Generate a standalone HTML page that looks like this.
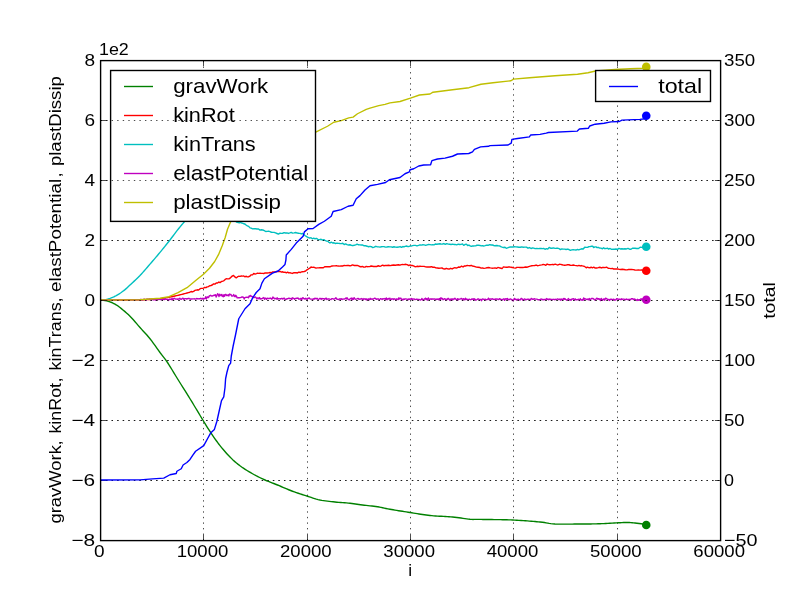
<!DOCTYPE html>
<html><head><meta charset="utf-8"><title>plot</title>
<style>html,body{margin:0;padding:0;background:#fff;overflow:hidden}svg{display:block;will-change:transform}text{font-family:"Liberation Sans",sans-serif;fill:#000}</style></head><body>
<svg width="800" height="600" viewBox="0 0 800 600">
<rect width="800" height="600" fill="#fff"/>
<g>
<line x1="203.50" y1="540.5" x2="203.50" y2="60.5" stroke="#000" stroke-width="0.7" stroke-dasharray="1.39 4.17" fill="none"/>
<line x1="307.50" y1="540.5" x2="307.50" y2="60.5" stroke="#000" stroke-width="0.7" stroke-dasharray="1.39 4.17" fill="none"/>
<line x1="410.50" y1="540.5" x2="410.50" y2="60.5" stroke="#000" stroke-width="0.7" stroke-dasharray="1.39 4.17" fill="none"/>
<line x1="513.50" y1="540.5" x2="513.50" y2="60.5" stroke="#000" stroke-width="0.7" stroke-dasharray="1.39 4.17" fill="none"/>
<line x1="617.50" y1="540.5" x2="617.50" y2="60.5" stroke="#000" stroke-width="0.7" stroke-dasharray="1.39 4.17" fill="none"/>
<line x1="100.5" y1="120.5" x2="720.5" y2="120.5" stroke="#000" stroke-width="0.7" stroke-dasharray="1.39 4.17" fill="none"/>
<line x1="100.5" y1="180.5" x2="720.5" y2="180.5" stroke="#000" stroke-width="0.7" stroke-dasharray="1.39 4.17" fill="none"/>
<line x1="100.5" y1="240.5" x2="720.5" y2="240.5" stroke="#000" stroke-width="0.7" stroke-dasharray="1.39 4.17" fill="none"/>
<line x1="100.5" y1="300.5" x2="720.5" y2="300.5" stroke="#000" stroke-width="0.7" stroke-dasharray="1.39 4.17" fill="none"/>
<line x1="100.5" y1="360.5" x2="720.5" y2="360.5" stroke="#000" stroke-width="0.7" stroke-dasharray="1.39 4.17" fill="none"/>
<line x1="100.5" y1="420.5" x2="720.5" y2="420.5" stroke="#000" stroke-width="0.7" stroke-dasharray="1.39 4.17" fill="none"/>
<line x1="100.5" y1="480.5" x2="720.5" y2="480.5" stroke="#000" stroke-width="0.7" stroke-dasharray="1.39 4.17" fill="none"/>
</g>
<clipPath id="ac"><rect x="100" y="60" width="621" height="481"/></clipPath>
<g clip-path="url(#ac)">
<polyline points="100.00,300.00 101.30,300.08 103.15,300.22 105.00,300.45 106.67,300.79 108.33,301.24 110.00,301.80 111.67,302.49 113.33,303.29 115.00,304.20 116.48,305.03 117.96,305.96 120.00,307.50 121.38,308.61 122.96,309.92 124.69,311.38 126.48,312.95 128.28,314.58 130.00,316.25 131.67,317.98 133.33,319.81 135.00,321.72 136.67,323.66 138.33,325.60 140.00,327.50 141.67,329.35 143.33,331.16 145.00,332.97 146.67,334.81 148.33,336.73 150.00,338.75 151.70,340.94 153.43,343.29 155.16,345.70 156.85,348.10 158.48,350.40 160.00,352.50 161.99,355.12 163.75,357.34 165.51,359.65 167.50,362.50 168.99,364.80 170.56,367.31 172.19,370.00 173.89,372.82 175.66,375.75 177.50,378.75 179.21,381.50 181.09,384.50 183.04,387.62 184.99,390.73 186.86,393.71 188.55,396.42 190.00,398.75 192.28,402.47 193.80,405.00 195.60,408.00 197.08,410.45 198.71,413.17 200.41,416.01 202.12,418.83 203.75,421.50 205.64,424.58 207.46,427.53 209.30,430.44 211.25,433.40 212.90,435.83 214.60,438.30 216.35,440.76 218.15,443.21 220.00,445.60 221.59,447.58 223.24,449.56 224.92,451.51 226.62,453.42 228.32,455.26 230.00,457.00 231.64,458.63 233.24,460.16 234.84,461.62 236.48,463.03 238.19,464.41 240.00,465.80 241.65,467.00 243.39,468.18 245.18,469.36 247.01,470.51 248.86,471.63 250.69,472.71 252.50,473.75 254.29,474.74 256.07,475.70 257.86,476.61 259.64,477.50 261.43,478.35 263.21,479.19 265.00,480.00 266.76,480.77 268.50,481.48 270.23,482.16 271.97,482.84 273.75,483.52 275.58,484.23 277.50,485.00 279.26,485.73 281.07,486.50 282.94,487.31 284.84,488.12 286.77,488.94 288.69,489.75 290.61,490.52 292.50,491.25 294.39,491.94 296.31,492.62 298.23,493.27 300.16,493.91 302.06,494.52 303.93,495.12 305.74,495.69 307.50,496.25 309.40,496.87 311.18,497.46 312.90,498.04 314.60,498.58 316.32,499.09 318.10,499.57 320.00,500.00 321.76,500.34 323.57,500.64 325.44,500.91 327.34,501.16 329.27,501.38 331.19,501.59 333.11,501.80 335.00,502.00 336.89,502.19 338.81,502.35 340.73,502.50 342.66,502.64 344.56,502.78 346.43,502.92 348.24,503.07 350.00,503.25 351.90,503.47 353.68,503.71 355.40,503.97 357.10,504.22 358.82,504.49 360.60,504.75 362.50,505.00 364.27,505.21 366.13,505.42 368.05,505.62 370.00,505.83 371.95,506.04 373.87,506.26 375.73,506.50 377.50,506.75 379.35,507.06 381.03,507.39 382.64,507.73 384.25,508.09 385.95,508.46 387.84,508.85 390.00,509.25 391.54,509.52 393.18,509.80 394.91,510.09 396.72,510.39 398.58,510.69 400.49,511.00 402.41,511.31 404.34,511.61 406.26,511.91 408.15,512.21 410.00,512.50 411.81,512.79 413.60,513.08 415.39,513.38 417.17,513.67 418.95,513.97 420.74,514.25 422.54,514.53 424.37,514.80 426.21,515.05 428.09,515.28 430.00,515.50 431.80,515.68 433.66,515.83 435.57,515.96 437.50,516.08 439.45,516.19 441.41,516.30 443.35,516.40 445.28,516.50 447.17,516.61 449.01,516.72 450.79,516.85 452.50,517.00 454.71,517.23 456.87,517.49 458.98,517.77 461.03,518.06 463.01,518.35 464.91,518.63 466.71,518.88 468.41,519.09 470.00,519.25 471.84,519.39 473.06,519.44 474.06,519.43 475.28,519.39 477.12,519.37 480.00,519.40 481.33,519.42 482.82,519.44 484.45,519.46 486.20,519.48 488.06,519.50 490.01,519.52 492.03,519.55 494.10,519.57 496.22,519.60 498.35,519.63 500.49,519.67 502.62,519.71 504.72,519.75 506.78,519.80 508.77,519.86 510.68,519.93 512.50,520.00 514.65,520.10 516.80,520.21 518.95,520.34 521.09,520.47 523.20,520.61 525.29,520.76 527.34,520.91 529.35,521.07 531.31,521.23 533.20,521.39 535.02,521.55 536.77,521.70 538.43,521.85 540.00,522.00 542.40,522.26 544.39,522.55 546.10,522.84 547.66,523.12 549.19,523.40 550.84,523.64 552.73,523.85 555.00,524.00 556.61,524.07 558.35,524.11 560.19,524.14 562.12,524.16 564.11,524.16 566.16,524.15 568.22,524.13 570.29,524.11 572.35,524.08 574.37,524.06 576.33,524.03 578.21,524.01 580.00,524.00 581.99,523.99 583.87,523.98 585.68,523.98 587.43,523.97 589.15,523.96 590.85,523.95 592.57,523.93 594.32,523.90 596.13,523.86 598.01,523.81 600.00,523.75 601.80,523.68 603.72,523.60 605.74,523.49 607.82,523.38 609.93,523.26 612.06,523.14 614.18,523.02 616.25,522.90 618.25,522.79 620.15,522.69 621.93,522.61 623.55,522.54 625.00,522.50 627.52,522.47 629.40,522.50 630.86,522.58 632.13,522.69 633.43,522.84 635.00,523.00 636.93,523.21 639.07,523.48 641.25,523.78 643.29,524.07 645.01,524.33 646.25,524.50" fill="none" stroke="#008000" stroke-width="1.39" stroke-linejoin="round" stroke-linecap="butt"/>
<circle cx="646.25" cy="525" r="4.3" fill="#008000"/>
<polyline points="100.00,300.00 100.81,300.00 101.74,299.99 102.80,299.99 103.96,299.99 105.23,299.99 106.58,299.99 108.02,299.98 109.54,299.98 111.11,299.98 112.74,299.98 114.42,299.98 116.13,299.97 117.87,299.97 119.63,299.97 121.40,299.96 123.17,299.96 124.93,299.95 126.67,299.94 128.38,299.93 130.06,299.92 131.69,299.91 133.26,299.90 134.78,299.88 136.21,299.86 137.57,299.84 138.84,299.82 140.00,299.80 142.06,299.75 143.95,299.70 145.70,299.65 147.32,299.60 148.82,299.54 150.23,299.48 151.56,299.41 152.83,299.33 154.05,299.25 155.23,299.16 156.41,299.06 157.58,298.95 158.77,298.83 160.00,298.70 161.56,298.52 163.07,298.31 164.53,298.09 165.95,297.85 167.33,297.60 168.67,297.34 169.98,297.07 171.26,296.80 172.52,296.53 173.77,296.26 175.00,296.00 176.48,295.68 177.93,295.35 179.33,295.01 180.70,294.67 182.04,294.32 183.33,293.98 184.59,293.65 185.81,293.32 187.00,293.00 188.46,292.61 189.83,292.22 191.15,291.50 192.41,291.93 193.63,291.39 194.82,290.45 196.00,290.09 197.34,289.81 198.61,290.01 199.84,288.94 201.06,288.35 202.27,288.39 203.50,288.11 204.73,287.40 205.94,287.70 207.16,286.89 208.39,286.55 209.66,285.72 211.00,285.49 212.23,285.00 213.54,283.86 214.90,284.11 216.26,282.95 217.59,282.95 218.85,282.02 220.00,282.61 221.47,281.50 222.82,281.09 224.06,280.58 225.20,279.43 226.25,278.72 227.73,278.82 228.94,278.84 230.00,278.13 231.25,276.90 232.50,275.88 233.56,275.50 234.77,276.85 236.25,277.84 237.38,276.98 238.69,276.25 240.06,276.41 241.37,276.02 242.50,276.13 243.80,276.00 244.81,276.80 246.25,276.23 247.30,276.92 248.52,276.75 249.84,276.18 251.20,274.82 252.53,274.88 253.75,273.50 255.10,274.12 256.40,273.69 257.65,273.14 258.85,273.34 260.00,273.14 261.34,273.40 262.58,273.32 263.78,273.53 265.00,272.92 266.16,273.00 267.27,272.94 268.49,272.87 270.00,272.50 271.27,272.76 272.73,271.84 274.30,271.82 275.88,271.78 277.39,271.50 278.75,271.65 280.18,271.37 281.49,272.10 282.71,271.78 283.87,272.41 285.00,272.24 286.34,272.88 287.58,272.19 288.78,272.93 290.00,272.77 291.19,273.08 292.34,273.46 293.57,272.80 295.00,272.70 296.15,272.71 297.45,272.95 298.83,272.14 300.19,272.54 301.44,271.92 302.50,271.76 304.07,271.54 305.23,271.26 306.25,270.41 307.42,269.53 308.75,268.74 309.79,268.22 311.02,267.04 312.35,267.34 313.75,267.28 314.86,267.61 315.98,268.08 317.17,267.90 318.49,267.91 320.00,267.61 321.12,267.80 322.22,267.80 323.37,267.69 324.64,266.75 326.12,266.79 327.88,266.70 330.00,266.81 331.08,266.25 332.28,265.94 333.59,265.82 334.98,265.85 336.44,265.69 337.96,266.06 339.52,266.07 341.09,265.91 342.68,266.00 344.25,265.46 345.79,265.67 347.29,265.41 348.72,265.52 350.08,265.86 351.35,265.48 352.50,264.94 354.31,265.49 355.90,265.47 357.31,265.40 358.60,265.80 359.82,266.53 361.02,266.93 362.25,266.44 363.56,267.00 365.00,267.10 366.23,266.40 367.44,266.69 368.64,266.63 369.85,266.60 371.09,265.97 372.36,266.23 373.70,266.53 375.12,266.46 376.63,266.51 378.25,265.75 380.00,266.31 381.23,265.89 382.57,265.21 384.01,265.77 385.51,265.36 387.08,265.54 388.69,265.27 390.33,265.58 391.98,265.21 393.64,264.97 395.28,265.27 396.88,265.00 398.44,264.74 399.94,265.20 401.36,264.65 402.68,264.56 403.90,264.58 405.00,264.31 407.17,264.67 408.80,265.58 410.07,264.98 411.15,265.53 412.22,265.47 413.44,265.87 415.00,266.71 416.17,266.61 417.39,266.24 418.66,266.48 419.98,266.29 421.34,266.35 422.73,266.36 424.15,266.42 425.59,266.84 427.05,266.99 428.52,267.04 430.00,266.95 431.39,266.71 432.83,267.25 434.32,267.17 435.83,267.90 437.37,268.00 438.91,268.26 440.44,268.11 441.94,267.85 443.42,268.82 444.84,269.02 446.21,268.28 447.50,268.79 449.12,269.07 450.66,268.27 452.13,268.95 453.54,268.09 454.89,267.63 456.20,268.11 457.49,267.53 458.75,267.01 460.00,267.26 461.56,266.15 463.04,266.99 464.46,265.90 465.85,265.95 467.22,265.52 468.59,265.64 470.00,265.77 471.34,265.40 472.57,266.18 473.76,266.24 475.01,266.56 476.41,267.12 478.05,267.25 480.00,267.56 481.16,268.17 482.46,267.90 483.89,268.35 485.42,268.17 487.02,267.77 488.66,267.53 490.31,267.90 491.95,268.19 493.55,268.11 495.09,267.84 496.53,268.38 497.84,267.53 499.01,267.65 500.00,268.04 502.07,268.46 502.81,267.61 503.40,266.87 505.00,267.18 505.98,267.20 507.08,267.31 508.30,266.97 509.61,266.94 511.00,267.30 512.45,267.48 513.94,267.92 515.46,268.13 516.99,267.32 518.50,267.39 520.00,267.48 521.38,267.34 522.80,267.45 524.26,267.30 525.74,267.06 527.24,267.20 528.75,266.55 530.26,266.07 531.76,265.72 533.24,265.68 534.70,265.49 536.12,265.07 537.50,265.70 538.96,265.42 540.38,265.11 541.77,264.85 543.14,264.53 544.49,264.62 545.82,265.35 547.15,264.05 548.48,264.68 549.81,264.80 551.15,264.57 552.50,264.40 553.86,264.72 555.23,264.16 556.59,264.68 557.95,264.98 559.32,264.29 560.68,264.41 562.05,264.76 563.41,265.08 564.77,265.26 566.14,265.13 567.50,264.80 568.89,264.74 570.33,265.22 571.79,265.34 573.27,264.98 574.74,265.41 576.19,265.58 577.60,265.89 578.95,265.38 580.23,265.95 581.42,265.54 582.50,265.87 584.10,266.21 585.28,266.97 586.25,267.81 587.22,267.17 588.40,267.48 590.00,267.80 591.11,267.14 592.37,267.80 593.75,267.20 595.22,268.05 596.73,267.96 598.27,267.65 599.78,267.23 601.25,267.95 602.63,267.52 603.89,267.49 605.00,267.67 606.57,267.13 607.69,267.97 608.59,268.38 609.54,268.43 610.76,268.60 612.50,268.46 613.61,269.02 614.85,268.96 616.20,268.97 617.64,268.86 619.15,269.34 620.70,269.51 622.29,269.31 623.89,269.52 625.48,269.70 627.04,269.84 628.55,269.50 630.00,269.44 631.59,269.46 633.25,269.68 634.96,269.95 636.68,270.17 638.39,269.87 640.03,270.14 641.59,269.90 643.02,270.67 644.30,270.26 645.39,270.55 646.25,270.28" fill="none" stroke="#ff0000" stroke-width="1.39" stroke-linejoin="round" stroke-linecap="butt"/>
<circle cx="646.25" cy="270.75" r="4.3" fill="#ff0000"/>
<polyline points="100.00,300.00 100.90,299.95 102.19,299.88 103.63,299.77 105.00,299.60 106.25,299.36 107.50,299.05 108.75,298.70 110.00,298.30 111.25,297.86 112.50,297.38 113.75,296.84 115.00,296.25 116.25,295.59 117.50,294.88 118.75,294.11 120.00,293.30 121.25,292.45 122.50,291.55 123.75,290.61 125.00,289.60 126.13,288.63 127.19,287.66 128.40,286.52 130.00,285.00 131.17,283.92 132.49,282.70 133.94,281.37 135.45,279.96 137.00,278.50 138.53,277.00 140.00,275.50 141.43,273.97 142.86,272.39 144.29,270.76 145.71,269.11 147.14,267.43 148.57,265.76 150.00,264.10 151.44,262.44 152.89,260.76 154.34,259.08 155.78,257.40 157.22,255.72 158.62,254.05 160.00,252.40 161.28,250.85 162.45,249.41 163.58,248.01 164.73,246.56 165.97,245.00 167.37,243.24 169.00,241.20 170.18,239.70 171.45,238.04 172.81,236.24 174.23,234.34 175.71,232.39 177.21,230.42 178.74,228.47 180.27,226.57 181.78,224.77 183.26,223.10 184.70,221.60 186.12,220.23 187.55,218.93 188.99,217.70 190.43,216.53 191.87,215.43 193.29,214.41 194.70,213.45 196.08,212.56 197.42,211.74 198.73,210.98 200.00,210.30 201.49,209.57 202.93,208.96 204.32,208.46 205.67,208.07 206.98,207.77 208.27,207.55 209.53,207.40 210.77,207.32 212.00,207.30 213.49,207.34 214.87,207.48 216.19,207.74 217.50,208.13 218.87,208.67 220.35,209.39 222.00,210.30 223.30,211.13 224.72,212.16 226.24,213.34 227.81,214.62 229.41,215.94 230.99,217.27 232.52,218.54 233.98,219.70 235.31,220.70 236.50,222.13 238.17,222.53 239.57,222.91 240.78,222.47 241.87,223.16 242.92,223.31 244.00,223.77 245.23,224.25 246.32,225.23 247.38,225.89 248.57,226.37 250.00,227.81 251.22,228.21 252.57,228.87 254.01,228.62 255.50,228.77 257.03,229.01 258.54,228.96 260.00,230.14 261.43,229.72 262.86,229.99 264.29,230.62 265.71,231.50 267.14,231.34 268.57,231.17 270.00,231.55 271.41,232.30 272.78,232.33 274.15,232.42 275.54,232.90 276.96,233.49 278.44,234.12 280.00,233.11 281.29,233.35 282.66,233.25 284.07,232.59 285.52,233.00 286.98,232.83 288.43,233.45 289.84,232.91 291.21,232.33 292.50,233.13 294.10,232.85 295.69,232.48 297.22,233.05 298.70,233.25 300.08,233.38 301.36,233.94 302.50,233.41 304.07,234.66 305.23,235.75 306.28,236.37 307.50,237.09 308.63,237.56 309.79,238.15 311.01,237.68 312.32,238.77 313.75,238.15 315.08,238.77 316.53,238.41 318.05,239.50 319.58,239.67 321.09,239.26 322.50,240.17 323.79,239.68 325.00,240.44 326.17,240.96 327.36,241.07 328.62,242.07 330.00,242.98 331.29,242.17 332.64,243.00 334.05,242.75 335.50,243.52 336.98,243.17 338.48,243.36 340.00,243.53 341.35,243.59 342.75,243.27 344.18,244.52 345.62,243.83 347.07,244.67 348.50,245.05 349.90,244.75 351.25,245.25 352.76,245.70 354.23,245.29 355.69,244.94 357.12,244.17 358.52,244.81 359.90,244.93 361.25,245.02 362.77,245.04 364.21,245.78 365.62,245.75 367.04,246.22 368.48,246.76 370.00,246.40 371.36,246.67 372.77,247.56 374.20,247.10 375.65,246.30 377.11,246.69 378.56,246.89 380.00,247.13 381.38,246.78 382.71,246.60 384.02,246.58 385.36,247.12 386.78,247.06 388.31,246.81 390.00,246.93 391.21,246.85 392.56,247.24 394.00,246.73 395.51,247.11 397.04,247.21 398.58,247.05 400.07,246.56 401.50,247.28 402.81,246.54 403.99,246.89 405.00,246.44 406.84,246.00 407.81,246.59 408.63,246.48 410.00,246.17 411.17,246.15 412.49,245.65 413.94,245.41 415.45,245.41 417.00,245.94 418.53,245.40 420.00,244.82 421.43,245.14 422.86,244.78 424.29,244.82 425.71,245.32 427.14,244.87 428.57,244.47 430.00,244.68 431.38,244.91 432.71,244.73 434.02,244.90 435.36,243.99 436.78,244.30 438.31,244.03 440.00,243.75 441.19,244.09 442.49,243.99 443.87,243.57 445.30,244.32 446.76,243.60 448.24,244.14 449.70,244.22 451.13,244.46 452.51,244.14 453.81,244.44 455.00,244.45 456.71,244.87 458.29,244.22 459.77,244.49 461.15,244.33 462.47,243.94 463.75,245.35 465.00,244.48 466.39,244.19 467.69,245.52 468.91,245.02 470.09,245.88 471.28,246.34 472.50,245.97 473.66,246.06 474.72,245.93 475.78,245.91 476.94,245.20 478.32,245.17 480.00,245.45 481.10,245.83 482.34,245.65 483.69,246.00 485.11,245.61 486.59,245.16 488.10,245.28 489.60,244.61 491.07,245.00 492.48,245.01 493.80,245.52 495.00,245.73 496.67,245.51 498.15,245.80 499.50,245.82 500.80,246.69 502.11,247.16 503.48,247.50 505.00,247.23 506.25,248.22 507.51,247.88 508.80,247.32 510.11,247.03 511.46,246.94 512.87,246.95 514.34,246.77 515.88,246.87 517.50,246.97 518.81,247.23 520.21,247.23 521.70,246.90 523.24,247.20 524.82,247.08 526.41,247.16 527.99,248.20 529.54,247.53 531.04,248.54 532.46,247.86 533.79,248.19 535.00,248.58 536.82,248.34 538.40,248.59 539.81,248.46 541.11,248.46 542.36,248.62 543.64,248.47 545.00,249.27 546.41,248.59 547.78,249.13 549.15,247.43 550.54,248.22 551.96,248.27 553.44,247.89 555.00,248.38 556.28,248.30 557.61,248.13 558.98,248.56 560.38,249.61 561.81,248.94 563.24,249.17 564.67,249.10 566.10,249.46 567.50,249.05 568.90,249.47 570.33,250.42 571.76,249.92 573.19,249.74 574.62,249.84 576.02,250.03 577.39,249.48 578.72,249.87 580.00,249.37 581.60,248.80 583.19,249.01 584.72,247.19 586.20,247.42 587.58,247.34 588.86,246.60 590.00,246.65 591.54,246.28 592.66,246.23 593.69,247.49 595.00,246.92 596.02,246.85 597.04,247.58 598.12,247.32 599.35,248.01 600.79,248.10 602.50,248.77 603.57,247.81 604.74,248.68 605.98,248.55 607.30,248.20 608.67,249.07 610.09,248.48 611.55,249.42 613.03,249.10 614.52,249.20 616.01,249.02 617.50,249.32 618.89,248.34 620.34,248.99 621.85,248.70 623.38,248.97 624.93,248.78 626.48,248.94 628.02,248.35 629.54,249.20 631.01,249.28 632.42,248.30 633.75,248.28 635.00,248.30 636.78,248.50 638.52,248.56 640.17,247.30 641.72,247.33 643.13,247.01 644.38,246.84 645.42,246.52 646.25,247.13" fill="none" stroke="#00bfbf" stroke-width="1.39" stroke-linejoin="round" stroke-linecap="butt"/>
<circle cx="646.25" cy="246.75" r="4.3" fill="#00bfbf"/>
<polyline points="100.00,300.00 100.70,300.00 101.40,299.99 102.10,299.99 102.80,299.99 103.50,299.98 104.20,299.98 104.90,299.98 105.60,299.97 106.30,299.97 107.00,299.96 107.70,299.96 108.40,299.96 109.10,299.95 109.80,299.95 110.50,299.95 111.20,299.94 111.90,299.94 112.60,299.94 113.30,299.93 114.00,299.93 114.70,299.93 115.40,299.92 116.10,299.92 116.80,299.92 117.50,299.91 118.20,299.91 118.90,299.91 119.60,299.90 120.30,299.90 121.00,299.89 121.70,299.89 122.40,299.89 123.10,299.88 123.80,299.88 124.50,299.88 125.20,299.87 125.90,299.87 126.60,299.87 127.30,299.86 128.00,299.86 128.70,299.86 129.40,299.85 130.10,299.85 130.80,299.85 131.50,299.84 132.20,299.84 132.90,299.84 133.60,299.83 134.30,299.83 135.00,299.82 135.70,299.82 136.40,299.82 137.10,299.81 137.80,299.81 138.50,299.81 139.20,299.80 139.90,299.80 140.60,299.49 141.30,299.34 142.00,300.17 142.70,299.68 143.40,299.49 144.10,299.21 144.80,299.31 145.50,299.71 146.20,300.09 146.90,298.99 147.60,299.16 148.30,299.41 149.00,299.24 149.70,298.87 150.40,299.45 151.10,299.69 151.80,298.87 152.50,299.48 153.20,299.73 153.90,299.73 154.60,299.23 155.30,300.17 156.00,299.55 156.70,299.06 157.40,299.68 158.10,298.93 158.80,299.62 159.50,298.86 160.20,299.57 160.90,299.07 161.60,299.66 162.30,299.52 163.00,299.40 163.70,299.26 164.40,299.61 165.10,298.58 165.80,299.35 166.50,299.34 167.20,299.38 167.90,299.46 168.60,300.46 169.30,299.19 170.00,299.42 170.70,299.18 171.40,299.67 172.10,298.40 172.80,299.69 173.50,298.85 174.20,298.28 174.90,298.69 175.60,298.99 176.30,299.11 177.00,299.01 177.70,299.31 178.40,299.00 179.10,298.98 179.80,298.24 180.50,299.15 181.20,299.32 181.90,298.81 182.60,298.29 183.30,298.47 184.00,299.51 184.70,298.70 185.40,298.67 186.10,298.60 186.80,299.12 187.50,298.66 188.20,298.55 188.90,298.32 189.60,298.80 190.30,299.18 191.00,298.76 191.70,299.11 192.40,298.86 193.10,298.83 193.80,298.83 194.50,298.77 195.20,299.11 195.90,298.91 196.60,298.53 197.30,298.76 198.00,298.68 198.70,298.87 199.40,298.75 200.10,298.82 200.80,298.15 201.50,298.79 202.20,299.10 202.90,298.16 203.60,299.18 204.30,298.71 205.00,298.42 205.70,296.78 206.40,298.95 207.10,296.91 207.80,297.01 208.50,297.62 209.20,296.00 209.90,295.74 210.60,295.31 211.30,295.91 212.00,296.21 212.70,295.77 213.40,295.65 214.10,295.01 214.80,295.42 215.50,294.71 216.20,297.00 216.90,295.47 217.60,293.64 218.30,294.39 219.00,296.66 219.70,294.14 220.40,294.93 221.10,295.64 221.80,294.37 222.50,296.21 223.20,296.73 223.90,294.60 224.60,296.26 225.30,294.54 226.00,294.45 226.70,295.51 227.40,295.50 228.10,294.79 228.80,296.02 229.50,294.05 230.20,294.57 230.90,294.38 231.60,295.94 232.30,295.98 233.00,295.87 233.70,294.55 234.40,296.11 235.10,296.74 235.80,295.33 236.50,296.35 237.20,297.85 237.90,297.89 238.60,297.58 239.30,297.78 240.00,297.63 240.70,297.50 241.40,297.32 242.10,296.79 242.80,297.23 243.50,297.12 244.20,299.02 244.90,297.58 245.60,297.39 246.30,297.24 247.00,297.32 247.70,297.21 248.40,297.78 249.10,295.88 249.80,296.47 250.50,295.41 251.20,296.15 251.90,296.51 252.60,296.59 253.30,297.52 254.00,297.57 254.70,297.17 255.40,297.06 256.10,297.57 256.80,299.08 257.50,298.04 258.20,297.89 258.90,298.84 259.60,297.60 260.30,299.00 261.00,298.74 261.70,298.82 262.40,298.44 263.10,297.92 263.80,297.59 264.50,299.26 265.20,298.30 265.90,298.28 266.60,299.33 267.30,298.23 268.00,298.43 268.70,298.43 269.40,298.48 270.10,298.04 270.80,298.28 271.50,299.20 272.20,298.95 272.90,297.08 273.60,297.59 274.30,298.74 275.00,298.52 275.70,298.39 276.40,299.10 277.10,297.69 277.80,299.19 278.50,298.66 279.20,298.87 279.90,298.72 280.60,299.02 281.30,298.48 282.00,298.33 282.70,299.00 283.40,298.70 284.10,297.99 284.80,299.29 285.50,299.22 286.20,299.34 286.90,298.66 287.60,298.80 288.30,298.44 289.00,298.15 289.70,298.67 290.40,298.73 291.10,298.31 291.80,299.56 292.50,297.84 293.20,298.24 293.90,298.32 294.60,299.30 295.30,298.53 296.00,298.50 296.70,298.22 297.40,298.28 298.10,298.02 298.80,299.18 299.50,298.98 300.20,299.17 300.90,298.35 301.60,299.94 302.30,298.19 303.00,297.66 303.70,298.54 304.40,298.76 305.10,299.07 305.80,298.19 306.50,299.00 307.20,299.56 307.90,298.28 308.60,298.34 309.30,297.86 310.00,298.84 310.70,299.15 311.40,299.11 312.10,299.14 312.80,299.44 313.50,298.79 314.20,299.21 314.90,298.26 315.60,298.34 316.30,298.86 317.00,298.33 317.70,299.03 318.40,299.44 319.10,298.95 319.80,298.39 320.50,298.38 321.20,299.44 321.90,298.36 322.60,298.81 323.30,298.64 324.00,298.80 324.70,299.32 325.40,298.51 326.10,298.08 326.80,299.51 327.50,298.90 328.20,299.15 328.90,298.78 329.60,299.18 330.30,299.43 331.00,299.48 331.70,298.67 332.40,298.63 333.10,299.01 333.80,298.91 334.50,299.10 335.20,298.46 335.90,297.66 336.60,299.05 337.30,299.22 338.00,299.15 338.70,299.66 339.40,299.26 340.10,298.64 340.80,299.33 341.50,298.80 342.20,299.47 342.90,298.97 343.60,299.08 344.30,298.97 345.00,298.88 345.70,298.11 346.40,298.89 347.10,297.73 347.80,299.12 348.50,299.37 349.20,299.90 349.90,299.06 350.60,298.52 351.30,298.09 352.00,299.86 352.70,298.17 353.40,299.34 354.10,297.74 354.80,298.87 355.50,299.24 356.20,299.06 356.90,298.88 357.60,298.49 358.30,298.46 359.00,299.42 359.70,299.13 360.40,298.84 361.10,299.02 361.80,298.46 362.50,299.44 363.20,299.56 363.90,298.54 364.60,298.99 365.30,299.46 366.00,298.62 366.70,299.96 367.40,299.70 368.10,298.81 368.80,299.44 369.50,299.79 370.20,298.33 370.90,299.27 371.60,298.89 372.30,298.86 373.00,299.32 373.70,298.73 374.40,298.27 375.10,298.27 375.80,298.97 376.50,299.30 377.20,298.97 377.90,298.91 378.60,298.98 379.30,299.64 380.00,299.26 380.70,298.63 381.40,298.86 382.10,299.61 382.80,298.72 383.50,298.81 384.20,299.00 384.90,298.48 385.60,299.47 386.30,297.93 387.00,299.75 387.70,298.81 388.40,298.40 389.10,299.17 389.80,298.18 390.50,299.31 391.20,299.43 391.90,298.76 392.60,298.85 393.30,299.52 394.00,298.72 394.70,299.07 395.40,299.23 396.10,299.84 396.80,298.81 397.50,299.08 398.20,299.63 398.90,297.79 399.60,298.94 400.30,298.12 401.00,298.16 401.70,300.06 402.40,299.19 403.10,299.83 403.80,298.97 404.50,299.36 405.20,298.88 405.90,298.83 406.60,299.07 407.30,299.17 408.00,299.87 408.70,299.01 409.40,299.30 410.10,298.99 410.80,299.19 411.50,298.47 412.20,299.67 412.90,298.87 413.60,299.15 414.30,299.03 415.00,299.63 415.70,299.40 416.40,299.15 417.10,299.23 417.80,299.32 418.50,299.53 419.20,299.41 419.90,299.80 420.60,299.97 421.30,299.47 422.00,298.50 422.70,300.04 423.40,300.24 424.10,298.99 424.80,298.97 425.50,298.15 426.20,299.57 426.90,298.68 427.60,300.10 428.30,297.95 429.00,299.23 429.70,299.53 430.40,299.00 431.10,298.80 431.80,299.33 432.50,298.94 433.20,299.04 433.90,299.19 434.60,298.94 435.30,299.10 436.00,299.61 436.70,299.03 437.40,299.31 438.10,298.85 438.80,299.69 439.50,298.59 440.20,299.72 440.90,297.73 441.60,298.79 442.30,298.45 443.00,299.75 443.70,299.39 444.40,298.60 445.10,298.97 445.80,299.93 446.50,299.23 447.20,299.54 447.90,298.51 448.60,298.51 449.30,299.55 450.00,300.42 450.70,299.00 451.40,299.57 452.10,298.80 452.80,299.90 453.50,299.05 454.20,299.06 454.90,298.34 455.60,299.08 456.30,299.38 457.00,299.98 457.70,298.70 458.40,299.78 459.10,299.13 459.80,299.15 460.50,298.83 461.20,298.45 461.90,298.70 462.60,300.12 463.30,298.71 464.00,299.09 464.70,299.87 465.40,298.26 466.10,299.54 466.80,299.06 467.50,299.41 468.20,299.76 468.90,299.25 469.60,299.23 470.30,299.69 471.00,299.65 471.70,298.98 472.40,299.25 473.10,298.67 473.80,299.99 474.50,298.74 475.20,299.44 475.90,300.23 476.60,299.76 477.30,299.21 478.00,299.00 478.70,299.05 479.40,299.83 480.10,299.54 480.80,299.38 481.50,300.68 482.20,298.96 482.90,299.14 483.60,299.19 484.30,299.49 485.00,299.54 485.70,299.25 486.40,299.75 487.10,299.65 487.80,299.23 488.50,298.16 489.20,299.78 489.90,298.90 490.60,299.05 491.30,299.30 492.00,298.75 492.70,298.97 493.40,299.40 494.10,299.19 494.80,299.52 495.50,298.93 496.20,299.24 496.90,298.83 497.60,299.21 498.30,299.50 499.00,299.23 499.70,298.64 500.40,299.26 501.10,299.43 501.80,299.92 502.50,299.34 503.20,299.15 503.90,298.77 504.60,300.35 505.30,298.88 506.00,298.79 506.70,299.28 507.40,298.45 508.10,299.89 508.80,299.45 509.50,299.60 510.20,298.87 510.90,299.11 511.60,299.79 512.30,299.81 513.00,300.78 513.70,299.91 514.40,298.42 515.10,299.41 515.80,299.18 516.50,299.91 517.20,299.32 517.90,299.61 518.60,299.21 519.30,299.67 520.00,300.10 520.70,299.06 521.40,298.35 522.10,298.85 522.80,300.15 523.50,299.48 524.20,299.22 524.90,298.89 525.60,299.90 526.30,299.52 527.00,299.32 527.70,299.10 528.40,299.30 529.10,299.21 529.80,299.66 530.50,300.01 531.20,298.39 531.90,298.65 532.60,299.33 533.30,299.41 534.00,298.60 534.70,299.06 535.40,299.17 536.10,299.15 536.80,299.14 537.50,299.33 538.20,299.82 538.90,299.74 539.60,299.67 540.30,299.51 541.00,299.01 541.70,299.13 542.40,299.72 543.10,299.43 543.80,299.77 544.50,299.51 545.20,299.40 545.90,299.59 546.60,298.60 547.30,299.29 548.00,299.08 548.70,299.80 549.40,299.04 550.10,299.49 550.80,299.16 551.50,299.61 552.20,299.73 552.90,299.27 553.60,299.42 554.30,299.46 555.00,299.76 555.70,299.20 556.40,299.39 557.10,299.15 557.80,298.89 558.50,299.45 559.20,299.58 559.90,298.96 560.60,300.15 561.30,298.99 562.00,299.74 562.70,299.55 563.40,298.51 564.10,299.35 564.80,298.57 565.50,299.31 566.20,299.70 566.90,300.29 567.60,299.75 568.30,298.60 569.00,299.19 569.70,300.11 570.40,299.45 571.10,300.24 571.80,299.00 572.50,299.08 573.20,298.68 573.90,299.17 574.60,299.99 575.30,298.89 576.00,299.78 576.70,299.59 577.40,299.75 578.10,299.23 578.80,299.37 579.50,300.43 580.20,298.73 580.90,299.74 581.60,300.12 582.30,299.59 583.00,300.19 583.70,297.87 584.40,299.21 585.10,298.77 585.80,299.15 586.50,299.30 587.20,299.60 587.90,298.93 588.60,299.79 589.30,298.57 590.00,299.83 590.70,299.23 591.40,298.46 592.10,298.46 592.80,298.45 593.50,298.85 594.20,299.40 594.90,300.01 595.60,299.74 596.30,298.68 597.00,298.19 597.70,299.19 598.40,298.63 599.10,299.25 599.80,298.99 600.50,300.62 601.20,298.47 601.90,299.49 602.60,300.26 603.30,299.13 604.00,298.94 604.70,300.17 605.40,298.27 606.10,298.47 606.80,298.72 607.50,299.53 608.20,299.72 608.90,299.27 609.60,300.43 610.30,299.23 611.00,299.33 611.70,299.18 612.40,299.95 613.10,299.34 613.80,299.14 614.50,300.19 615.20,299.99 615.90,299.85 616.60,298.71 617.30,298.81 618.00,299.23 618.70,299.22 619.40,299.14 620.10,299.24 620.80,299.68 621.50,298.85 622.20,299.48 622.90,299.16 623.60,299.12 624.30,299.22 625.00,299.73 625.70,299.51 626.40,298.97 627.10,299.53 627.80,299.44 628.50,299.58 629.20,299.24 629.90,299.88 630.60,299.57 631.30,298.81 632.00,298.74 632.70,298.68 633.40,299.59 634.10,299.04 634.80,299.21 635.50,299.35 636.20,300.01 636.90,300.49 637.60,299.34 638.30,300.39 639.00,299.67 639.70,300.00 640.40,299.26 641.10,298.77 641.80,299.64 642.50,300.05 643.20,298.61 643.90,299.37 644.60,299.51 645.30,299.70 646.00,298.85" fill="none" stroke="#bf00bf" stroke-width="1.39" stroke-linejoin="round" stroke-linecap="butt"/>
<circle cx="646.25" cy="299.75" r="4.3" fill="#bf00bf"/>
<polyline points="100.00,300.00 140.00,299.80 160.00,298.20 169.00,296.70 178.00,292.70 187.00,287.70 196.00,280.20 203.50,274.20 209.50,268.20 214.70,261.50 218.50,254.70 222.20,245.70 225.20,237.50 227.50,229.20 229.70,224.00 232.00,219.00 238.00,203.00 247.00,188.00 262.00,170.00 282.00,153.00 300.00,141.50 316.25,131.90 327.50,126.25 333.75,122.25 341.25,120.60 348.75,117.90 353.10,117.10 357.50,113.75 366.25,109.40 370.00,108.10 378.75,105.60 385.00,104.40 390.00,102.90 400.00,101.50 410.50,98.20 419.50,95.00 430.00,94.00 433.00,92.20 452.50,89.80 469.00,87.70 481.00,84.25 493.00,82.75 511.00,80.80 513.50,79.10 529.50,77.80 555.00,75.70 577.50,74.20 588.00,72.70 595.50,71.00 615.00,69.50 630.00,68.80 645.00,68.30 646.25,66.50" fill="none" stroke="#bfbf00" stroke-width="1.39" stroke-linejoin="round" stroke-linecap="butt"/>
<circle cx="646.25" cy="66.9" r="4.3" fill="#bfbf00"/>
</g>
<g>
<line x1="100.50" y1="540.5" x2="100.50" y2="534.9" stroke="#000" stroke-width="0.7"/>
<line x1="100.50" y1="60.5" x2="100.50" y2="66.1" stroke="#000" stroke-width="0.7"/>
<line x1="203.50" y1="540.5" x2="203.50" y2="534.9" stroke="#000" stroke-width="0.7"/>
<line x1="203.50" y1="60.5" x2="203.50" y2="66.1" stroke="#000" stroke-width="0.7"/>
<line x1="307.50" y1="540.5" x2="307.50" y2="534.9" stroke="#000" stroke-width="0.7"/>
<line x1="307.50" y1="60.5" x2="307.50" y2="66.1" stroke="#000" stroke-width="0.7"/>
<line x1="410.50" y1="540.5" x2="410.50" y2="534.9" stroke="#000" stroke-width="0.7"/>
<line x1="410.50" y1="60.5" x2="410.50" y2="66.1" stroke="#000" stroke-width="0.7"/>
<line x1="513.50" y1="540.5" x2="513.50" y2="534.9" stroke="#000" stroke-width="0.7"/>
<line x1="513.50" y1="60.5" x2="513.50" y2="66.1" stroke="#000" stroke-width="0.7"/>
<line x1="617.50" y1="540.5" x2="617.50" y2="534.9" stroke="#000" stroke-width="0.7"/>
<line x1="617.50" y1="60.5" x2="617.50" y2="66.1" stroke="#000" stroke-width="0.7"/>
<line x1="720.50" y1="540.5" x2="720.50" y2="534.9" stroke="#000" stroke-width="0.7"/>
<line x1="720.50" y1="60.5" x2="720.50" y2="66.1" stroke="#000" stroke-width="0.7"/>
<line x1="100.5" y1="60.5" x2="106.1" y2="60.5" stroke="#000" stroke-width="0.7"/>
<line x1="100.5" y1="120.5" x2="106.1" y2="120.5" stroke="#000" stroke-width="0.7"/>
<line x1="100.5" y1="180.5" x2="106.1" y2="180.5" stroke="#000" stroke-width="0.7"/>
<line x1="100.5" y1="240.5" x2="106.1" y2="240.5" stroke="#000" stroke-width="0.7"/>
<line x1="100.5" y1="300.5" x2="106.1" y2="300.5" stroke="#000" stroke-width="0.7"/>
<line x1="100.5" y1="360.5" x2="106.1" y2="360.5" stroke="#000" stroke-width="0.7"/>
<line x1="100.5" y1="420.5" x2="106.1" y2="420.5" stroke="#000" stroke-width="0.7"/>
<line x1="100.5" y1="480.5" x2="106.1" y2="480.5" stroke="#000" stroke-width="0.7"/>
<line x1="100.5" y1="540.5" x2="106.1" y2="540.5" stroke="#000" stroke-width="0.7"/>
</g>
<rect x="110.6" y="70.5" width="204.9" height="150.9" fill="#fff" stroke="#000" stroke-width="1.39"/>
<line x1="124" y1="86.5" x2="153" y2="86.5" stroke="#008000" stroke-width="1.39"/>
<text x="173.2" y="92.6" font-size="20.6" text-anchor="start" textLength="95.10000000000001" lengthAdjust="spacingAndGlyphs">gravWork</text>
<line x1="124" y1="115.5" x2="153" y2="115.5" stroke="#ff0000" stroke-width="1.39"/>
<text x="173.2" y="121.6" font-size="20.6" text-anchor="start" textLength="61.5" lengthAdjust="spacingAndGlyphs">kinRot</text>
<line x1="124" y1="144.5" x2="153" y2="144.5" stroke="#00bfbf" stroke-width="1.39"/>
<text x="173.2" y="150.6" font-size="20.6" text-anchor="start" textLength="82.5" lengthAdjust="spacingAndGlyphs">kinTrans</text>
<line x1="124" y1="173.5" x2="153" y2="173.5" stroke="#bf00bf" stroke-width="1.39"/>
<text x="173.2" y="179.6" font-size="20.6" text-anchor="start" textLength="135.0" lengthAdjust="spacingAndGlyphs">elastPotential</text>
<line x1="124" y1="202.5" x2="153" y2="202.5" stroke="#bfbf00" stroke-width="1.39"/>
<text x="173.2" y="208.6" font-size="20.6" text-anchor="start" textLength="107.8" lengthAdjust="spacingAndGlyphs">plastDissip</text>
<g>
<line x1="100.5" y1="120.5" x2="720.5" y2="120.5" stroke="#000" stroke-width="0.7" stroke-dasharray="1.39 4.17" fill="none"/>
<line x1="100.5" y1="180.5" x2="720.5" y2="180.5" stroke="#000" stroke-width="0.7" stroke-dasharray="1.39 4.17" fill="none"/>
<line x1="100.5" y1="240.5" x2="720.5" y2="240.5" stroke="#000" stroke-width="0.7" stroke-dasharray="1.39 4.17" fill="none"/>
<line x1="100.5" y1="300.5" x2="720.5" y2="300.5" stroke="#000" stroke-width="0.7" stroke-dasharray="1.39 4.17" fill="none"/>
<line x1="100.5" y1="360.5" x2="720.5" y2="360.5" stroke="#000" stroke-width="0.7" stroke-dasharray="1.39 4.17" fill="none"/>
<line x1="100.5" y1="420.5" x2="720.5" y2="420.5" stroke="#000" stroke-width="0.7" stroke-dasharray="1.39 4.17" fill="none"/>
<line x1="100.5" y1="480.5" x2="720.5" y2="480.5" stroke="#000" stroke-width="0.7" stroke-dasharray="1.39 4.17" fill="none"/>
</g>
<g clip-path="url(#ac)">
<polyline points="100.00,480.00 140.00,479.90 152.50,478.90 163.75,478.10 170.00,474.75 176.25,473.50 176.90,471.25 181.25,468.75 183.10,465.00 186.90,462.50 190.00,459.40 192.50,455.60 195.60,451.25 203.75,445.60 207.50,438.75 210.60,433.10 214.40,429.40 216.90,421.25 219.40,410.00 221.50,400.60 223.75,396.90 225.00,387.50 225.60,378.75 226.90,372.50 228.75,365.60 230.60,363.10 231.25,356.25 233.10,346.25 235.50,335.00 238.75,318.75 245.00,308.75 250.00,303.75 252.50,298.10 256.25,292.50 260.00,288.75 261.90,283.10 264.40,278.75 272.50,273.10 278.10,271.00 282.50,266.90 285.00,264.40 285.90,260.00 286.25,255.00 291.25,249.40 296.25,243.10 303.10,236.25 304.40,231.90 308.10,228.75 313.10,228.50 318.75,224.40 324.40,221.25 331.25,216.25 333.10,211.50 341.25,209.60 348.10,206.25 353.10,205.25 356.25,198.75 360.00,195.60 365.00,190.00 370.00,185.70 377.50,184.40 385.60,182.50 389.40,179.75 400.00,177.50 405.00,173.75 409.40,171.90 410.00,169.75 413.75,168.75 418.75,166.00 423.75,165.00 430.60,164.75 431.90,160.60 437.50,159.00 445.00,158.10 452.50,156.25 457.50,154.00 468.75,153.50 472.50,151.90 474.40,149.40 480.60,146.90 488.75,146.25 490.00,145.60 508.10,145.00 511.25,143.10 511.90,139.40 517.50,138.50 529.40,136.90 530.60,135.00 540.00,134.40 546.25,133.10 548.40,132.50 577.30,131.10 579.40,129.00 588.30,128.30 589.70,126.00 595.20,124.20 604.10,123.25 611.00,121.90 619.30,121.50 622.00,120.10 639.90,119.40 645.40,118.70 646.25,115.75" fill="none" stroke="#0000ff" stroke-width="1.39" stroke-linejoin="round" stroke-linecap="butt"/>
<circle cx="646.25" cy="115.75" r="4.3" fill="#0000ff"/>
</g>
<line x1="720.5" y1="60.5" x2="714.9" y2="60.5" stroke="#000" stroke-width="0.7"/>
<line x1="720.5" y1="120.5" x2="714.9" y2="120.5" stroke="#000" stroke-width="0.7"/>
<line x1="720.5" y1="180.5" x2="714.9" y2="180.5" stroke="#000" stroke-width="0.7"/>
<line x1="720.5" y1="240.5" x2="714.9" y2="240.5" stroke="#000" stroke-width="0.7"/>
<line x1="720.5" y1="300.5" x2="714.9" y2="300.5" stroke="#000" stroke-width="0.7"/>
<line x1="720.5" y1="360.5" x2="714.9" y2="360.5" stroke="#000" stroke-width="0.7"/>
<line x1="720.5" y1="420.5" x2="714.9" y2="420.5" stroke="#000" stroke-width="0.7"/>
<line x1="720.5" y1="480.5" x2="714.9" y2="480.5" stroke="#000" stroke-width="0.7"/>
<line x1="720.5" y1="540.5" x2="714.9" y2="540.5" stroke="#000" stroke-width="0.7"/>
<rect x="100.6" y="60.6" width="620" height="480" fill="none" stroke="#000" stroke-width="1.39"/>
<rect x="595.6" y="70.5" width="114.9" height="31" fill="#fff" stroke="#000" stroke-width="1.39"/>
<line x1="609" y1="86.5" x2="638" y2="86.5" stroke="#0000ff" stroke-width="1.39"/>
<text x="658.2" y="92.6" font-size="20.6" text-anchor="start" textLength="44" lengthAdjust="spacingAndGlyphs">total</text>
<text x="99.2" y="557.1" font-size="16.8" text-anchor="middle" textLength="10.6" lengthAdjust="spacingAndGlyphs">0</text>
<text x="202.53" y="557.1" font-size="16.8" text-anchor="middle" textLength="51.7" lengthAdjust="spacingAndGlyphs">10000</text>
<text x="305.87" y="557.1" font-size="16.8" text-anchor="middle" textLength="51.7" lengthAdjust="spacingAndGlyphs">20000</text>
<text x="409.2" y="557.1" font-size="16.8" text-anchor="middle" textLength="51.7" lengthAdjust="spacingAndGlyphs">30000</text>
<text x="512.53" y="557.1" font-size="16.8" text-anchor="middle" textLength="51.7" lengthAdjust="spacingAndGlyphs">40000</text>
<text x="615.87" y="557.1" font-size="16.8" text-anchor="middle" textLength="51.7" lengthAdjust="spacingAndGlyphs">50000</text>
<text x="719.2" y="557.1" font-size="16.8" text-anchor="middle" textLength="51.7" lengthAdjust="spacingAndGlyphs">60000</text>
<text x="95.2" y="66.1" font-size="16.8" text-anchor="end" textLength="10.6" lengthAdjust="spacingAndGlyphs">8</text>
<text x="95.2" y="126.1" font-size="16.8" text-anchor="end" textLength="10.6" lengthAdjust="spacingAndGlyphs">6</text>
<text x="95.2" y="186.1" font-size="16.8" text-anchor="end" textLength="10.6" lengthAdjust="spacingAndGlyphs">4</text>
<text x="95.2" y="246.1" font-size="16.8" text-anchor="end" textLength="10.6" lengthAdjust="spacingAndGlyphs">2</text>
<text x="95.2" y="306.1" font-size="16.8" text-anchor="end" textLength="10.6" lengthAdjust="spacingAndGlyphs">0</text>
<text x="95.2" y="366.1" font-size="16.8" text-anchor="end" textLength="23.8" lengthAdjust="spacingAndGlyphs">−2</text>
<text x="95.2" y="426.1" font-size="16.8" text-anchor="end" textLength="23.8" lengthAdjust="spacingAndGlyphs">−4</text>
<text x="95.2" y="486.1" font-size="16.8" text-anchor="end" textLength="23.8" lengthAdjust="spacingAndGlyphs">−6</text>
<text x="95.2" y="546.1" font-size="16.8" text-anchor="end" textLength="23.8" lengthAdjust="spacingAndGlyphs">−8</text>
<text x="724.0" y="66.1" font-size="16.8" text-anchor="start" textLength="31.2" lengthAdjust="spacingAndGlyphs">350</text>
<text x="724.0" y="126.1" font-size="16.8" text-anchor="start" textLength="31.2" lengthAdjust="spacingAndGlyphs">300</text>
<text x="724.0" y="186.1" font-size="16.8" text-anchor="start" textLength="31.2" lengthAdjust="spacingAndGlyphs">250</text>
<text x="724.0" y="246.1" font-size="16.8" text-anchor="start" textLength="31.2" lengthAdjust="spacingAndGlyphs">200</text>
<text x="724.0" y="306.1" font-size="16.8" text-anchor="start" textLength="31.2" lengthAdjust="spacingAndGlyphs">150</text>
<text x="724.0" y="366.1" font-size="16.8" text-anchor="start" textLength="31.2" lengthAdjust="spacingAndGlyphs">100</text>
<text x="724.0" y="426.1" font-size="16.8" text-anchor="start" textLength="20.6" lengthAdjust="spacingAndGlyphs">50</text>
<text x="724.0" y="486.1" font-size="16.8" text-anchor="start" textLength="10.0" lengthAdjust="spacingAndGlyphs">0</text>
<text x="724.0" y="546.1" font-size="16.8" text-anchor="start" textLength="33.6" lengthAdjust="spacingAndGlyphs">−50</text>
<text x="99.0" y="54.6" font-size="16.8" text-anchor="start" textLength="29.8" lengthAdjust="spacingAndGlyphs">1e2</text>
<text x="410.2" y="575.9" font-size="17.3" text-anchor="middle">i</text>
<text x="61.2" y="523.6" font-size="17.3" text-anchor="start" textLength="78.5" lengthAdjust="spacingAndGlyphs" transform="rotate(-90 61.2 523.6)">gravWork</text>
<text x="61.2" y="433.6" font-size="17.3" text-anchor="start" textLength="50.7" lengthAdjust="spacingAndGlyphs" transform="rotate(-90 61.2 433.6)">kinRot</text>
<text x="61.2" y="370.6" font-size="17.3" text-anchor="start" textLength="68.4" lengthAdjust="spacingAndGlyphs" transform="rotate(-90 61.2 370.6)">kinTrans</text>
<text x="61.2" y="291.9" font-size="17.3" text-anchor="start" textLength="113.1" lengthAdjust="spacingAndGlyphs" transform="rotate(-90 61.2 291.9)">elastPotential</text>
<text x="61.2" y="166.1" font-size="17.3" text-anchor="start" textLength="90.0" lengthAdjust="spacingAndGlyphs" transform="rotate(-90 61.2 166.1)">plastDissip</text>
<text x="61.2" y="445.3" font-size="17.3" text-anchor="start" transform="rotate(-90 61.2 445.3)">,</text>
<text x="61.2" y="382.3" font-size="17.3" text-anchor="start" transform="rotate(-90 61.2 382.3)">,</text>
<text x="61.2" y="302.2" font-size="17.3" text-anchor="start" transform="rotate(-90 61.2 302.2)">,</text>
<text x="61.2" y="177.3" font-size="17.3" text-anchor="start" transform="rotate(-90 61.2 177.3)">,</text>
<text x="775" y="300.5" font-size="17.3" text-anchor="middle" textLength="36.5" lengthAdjust="spacingAndGlyphs" transform="rotate(-90 775 300.5)">total</text>
</svg></body></html>
